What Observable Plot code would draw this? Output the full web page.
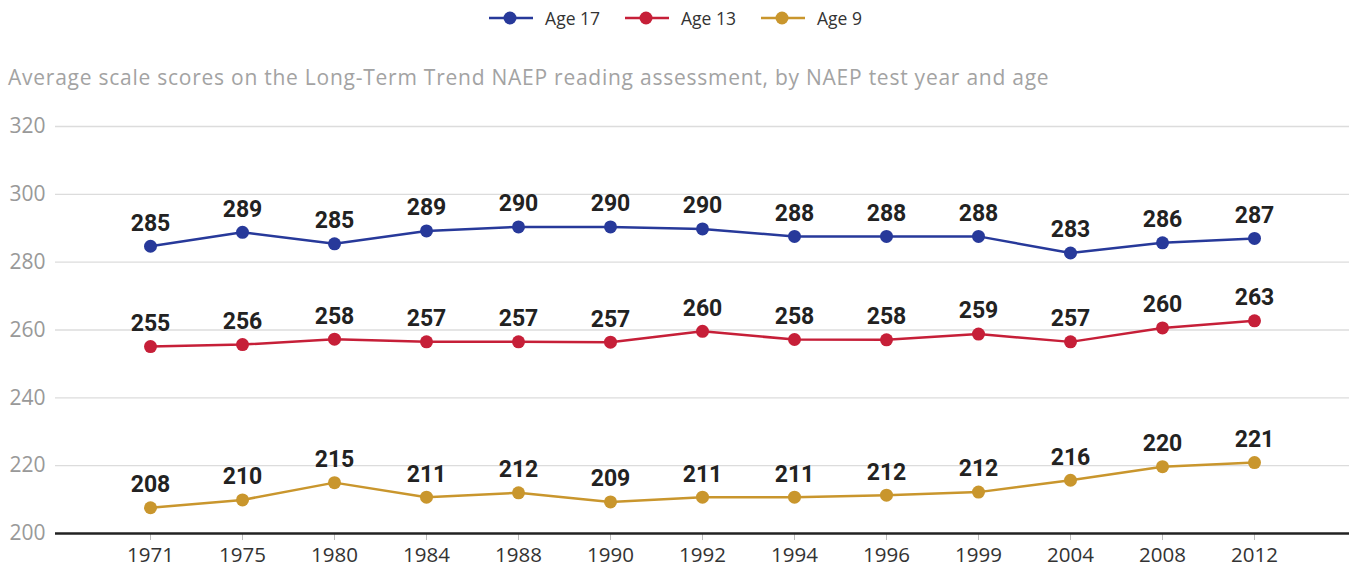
<!DOCTYPE html>
<html><head><meta charset="utf-8">
<script src="https://cdn.jsdelivr.net/npm/d3@7"></script>
<script src="https://cdn.jsdelivr.net/npm/@observablehq/plot@0.6"></script>
<style>
html,body{margin:0;padding:0;background:#fff;}
body{width:1351px;height:571px;position:relative;overflow:hidden;font-family:"Open Sans",Roboto,sans-serif;}
#legend{position:absolute;top:0;left:0;width:1351px;height:36px;display:flex;justify-content:center;align-items:center;gap:25px;font-size:17.5px;color:#333;}
#legend .item{display:flex;align-items:center;gap:12px;}
#title{position:absolute;top:64px;left:8px;font-size:21px;letter-spacing:0.75px;line-height:26px;color:#a3a3a3;white-space:nowrap;}
#chart{position:absolute;top:100px;left:0;}
</style>
</head><body>
<div id="legend"></div>
<div id="title">Average scale scores on the Long-Term Trend NAEP reading assessment, by NAEP test year and age</div>
<div id="chart"></div>
<script>
const years = ["1971","1975","1980","1984","1988","1990","1992","1994","1996","1999","2004","2008","2012"];
const seriesNames = ["Age 17","Age 13","Age 9"];
const seriesColors = ["#27399a","#c61f38","#c9962d"];
const age17 = [284.7,288.8,285.4,289.2,290.4,290.4,289.8,287.6,287.6,287.6,282.7,285.7,287.0];
const age17Labels = [285,289,285,289,290,290,290,288,288,288,283,286,287];
const age13 = [255.1,255.7,257.3,256.5,256.5,256.4,259.6,257.2,257.1,258.8,256.5,260.6,262.7];
const age13Labels = [255,256,258,257,257,257,260,258,258,259,257,260,263];
const age9 = [207.6,209.9,215.0,210.7,212.0,209.3,210.7,210.7,211.3,212.2,215.7,219.7,220.9];
const age9Labels = [208,210,215,211,212,209,211,211,212,212,216,220,221];
const yTicks = [200,220,240,260,280,300,320];

const valuesBySeries = [age17, age13, age9];
const labelsBySeries = [age17Labels, age13Labels, age9Labels];
const data = [];
seriesNames.forEach((s, i) => {
  years.forEach((y, j) => {
    data.push({series: s, year: y, value: valuesBySeries[i][j], label: String(labelsBySeries[i][j])});
  });
});

// legend
const legend = document.getElementById("legend");
seriesNames.forEach((s, i) => {
  const item = document.createElement("div");
  item.className = "item";
  item.innerHTML = `<svg width="44" height="14"><line x1="0" x2="44" y1="7" y2="7" stroke="${seriesColors[i]}" stroke-width="2.5"/><circle cx="21" cy="7" r="6.5" fill="${seriesColors[i]}"/></svg><span>${s}</span>`;
  legend.appendChild(item);
});

const chart = Plot.plot({
  width: 1351,
  height: 471,
  marginLeft: 55,
  marginRight: 2,
  marginTop: 26,
  marginBottom: 38,
  style: {fontFamily: "'Open Sans', Roboto, sans-serif", background: "#fff", overflow: "visible"},
  x: {type: "point", domain: years, padding: 1, label: null},
  y: {domain: [200, 320], label: null},
  color: {domain: seriesNames, range: seriesColors},
  marks: [
    Plot.ruleY(yTicks.filter(d => d > 200), {stroke: "#dcdcdc", strokeWidth: 1.3}),
    Plot.axisY(yTicks, {tickSize: 0, tickPadding: 10, fontSize: 21, fill: "#999", label: null}),
    Plot.axisX({tickSize: 7, tickPadding: 7, fontSize: 20.5, fill: "#333", stroke: "#bbb", label: null}),
    Plot.ruleY([200], {stroke: "#222", strokeWidth: 2.5}),
    Plot.line(data, {x: "year", y: "value", stroke: "series", strokeWidth: 2.5}),
    Plot.dot(data, {x: "year", y: "value", fill: "series", r: 6.5}),
    Plot.text(data, {x: "year", y: "value", text: "label", dy: -23, fontSize: 23, fontWeight: "bold", fill: "#222", fontFamily: "Roboto, sans-serif"})
  ]
});
document.getElementById("chart").appendChild(chart);
</script>
</body></html>
